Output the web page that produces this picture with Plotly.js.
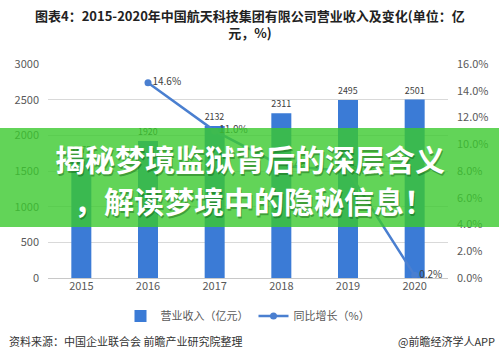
<!DOCTYPE html>
<html>
<head>
<meta charset="utf-8">
<script src="https://cdn.plot.ly/plotly-3.0.1.min.js"></script>
<style>
html,body{margin:0;padding:0;background:#fff;}
#chart{width:499px;height:357px;}
</style>
</head>
<body>
<div id="chart"></div>
<script>
var years = ['2015','2016','2017','2018','2019','2020'];
var revenue = [1675, 1920, 2132, 2311, 2495, 2501];
var growthYears = ['2016','2017','2018','2019','2020'];
var growth = [14.6, 11.0, 8.4, 8.0, 0.2];
var titleText = '图表4：2015-2020年中国航天科技集团有限公司营业收入及变化(单位：亿<br>元，%)';
var bannerLine1 = '揭秘梦境监狱背后的深层含义';
var bannerLine2 = '，解读梦境中的隐秘信息！';
var sourceText = '资料来源：中国企业联合会 前瞻产业研究院整理';
var brandText = '@前瞻经济学人APP';

var FONT = '"Noto Sans CJK SC", "Noto Sans", sans-serif';
var blue = '#3b7bd6';
var lineBlue = '#4a7fd0';

var traces = [
  {
    type: 'bar', x: years, y: revenue, name: '营业收入（亿元）',
    marker: {color: blue}, width: 0.3,
    text: revenue.map(String), textposition: 'outside', cliponaxis: false,
    textfont: {size: 10, color: '#404040', family: FONT}
  },
  {
    type: 'scatter', mode: 'lines+markers', x: growthYears, y: growth, yaxis: 'y2',
    name: '同比增长（%）', line: {color: lineBlue, width: 2.5},
    marker: {color: lineBlue, size: 7}
  },
  {
    type: 'scatter', mode: 'text', x: growthYears, y: growth, yaxis: 'y2',
    text: growth.map(function(v){return '\u00a0\u00a0' + v.toFixed(1)+'%';}), textposition: 'middle right',
    textfont: {size: 10, color: '#404040', family: FONT}, showlegend: false, cliponaxis: false,
    hoverinfo: 'skip'
  }
];

var layout = {
  width: 499, height: 357,
  margin: {l: 48, r: 51, t: 64, b: 79},
  paper_bgcolor: '#ffffff', plot_bgcolor: '#ffffff',
  font: {family: FONT, size: 11, color: '#595959'},
  xaxis: {
    type: 'category', showgrid: false, zeroline: false, ticks: '',
    showline: false, tickfont: {size: 11, color: '#595959'}
  },
  yaxis: {
    range: [0, 3000], dtick: 500, showgrid: true, gridcolor: '#d9d9d9', gridwidth: 1,
    zeroline: true, zerolinecolor: '#c8c8c8', ticks: '', showline: false,
    tickfont: {size: 11, color: '#595959'}, ticklabelstandoff: 8
  },
  yaxis2: {
    overlaying: 'y', side: 'right', range: [0, 16], dtick: 2, showgrid: false,
    zeroline: false, ticks: '', showline: false, ticksuffix: '%', tickformat: '.1f',
    tickfont: {size: 11, color: '#595959'}, ticklabelstandoff: 8
  },
  showlegend: true,
  legend: {
    orientation: 'h', x: 0.5, xanchor: 'center', y: -0.11, yanchor: 'top',
    font: {size: 11, color: '#595959', family: FONT}, itemwidth: 30, traceorder: 'normal'
  },
  bargap: 0.7,
  shapes: [
    {type: 'rect', xref: 'paper', yref: 'paper', x0: -0.13, x1: 1.14,
     y0: (278-227)/214, y1: (278-128)/214, fillcolor: 'rgba(59,201,46,0.8)',
     line: {width: 0}, layer: 'above'}
  ],
  annotations: [
    {xref: 'paper', yref: 'paper', x: (250-48)/400, y: (278-24.5)/214, xanchor: 'center', yanchor: 'middle',
     text: titleText, showarrow: false, align: 'center',
     font: {size: 13, color: '#222222', family: FONT, weight: 'bold'}},
    {xref: 'paper', yref: 'paper', x: (250-48)/400 + 0.003, y: (278-158)/214 - 0.008, text: bannerLine1,
     showarrow: false, font: {size: 30, color: 'rgba(0,60,0,0.35)', family: FONT, weight: 'bold'}},
    {xref: 'paper', yref: 'paper', x: (250-48)/400, y: (278-158)/214, text: bannerLine1,
     showarrow: false, font: {size: 30, color: '#ffffff', family: FONT, weight: 'bold'}},
    {xref: 'paper', yref: 'paper', x: (254-48)/400 + 0.003, y: (278-200)/214 - 0.008, text: bannerLine2,
     showarrow: false, font: {size: 30, color: 'rgba(0,60,0,0.35)', family: FONT, weight: 'bold'}},
    {xref: 'paper', yref: 'paper', x: (254-48)/400, y: (278-200)/214, text: bannerLine2,
     showarrow: false, font: {size: 30, color: '#ffffff', family: FONT, weight: 'bold'}},
    {xref: 'paper', yref: 'paper', x: -41/400, xanchor: 'left', y: (278-341)/214, yanchor: 'middle',
     text: sourceText, showarrow: false, font: {size: 11, color: '#333333', family: FONT}},
    {xref: 'paper', yref: 'paper', x: (497-48)/400, xanchor: 'right', y: (278-341)/214, yanchor: 'middle',
     text: brandText, showarrow: false, font: {size: 11, color: '#333333', family: FONT}}
  ]
};

Plotly.newPlot('chart', traces, layout, {displayModeBar: false, staticPlot: true});
</script>
</body>
</html>
